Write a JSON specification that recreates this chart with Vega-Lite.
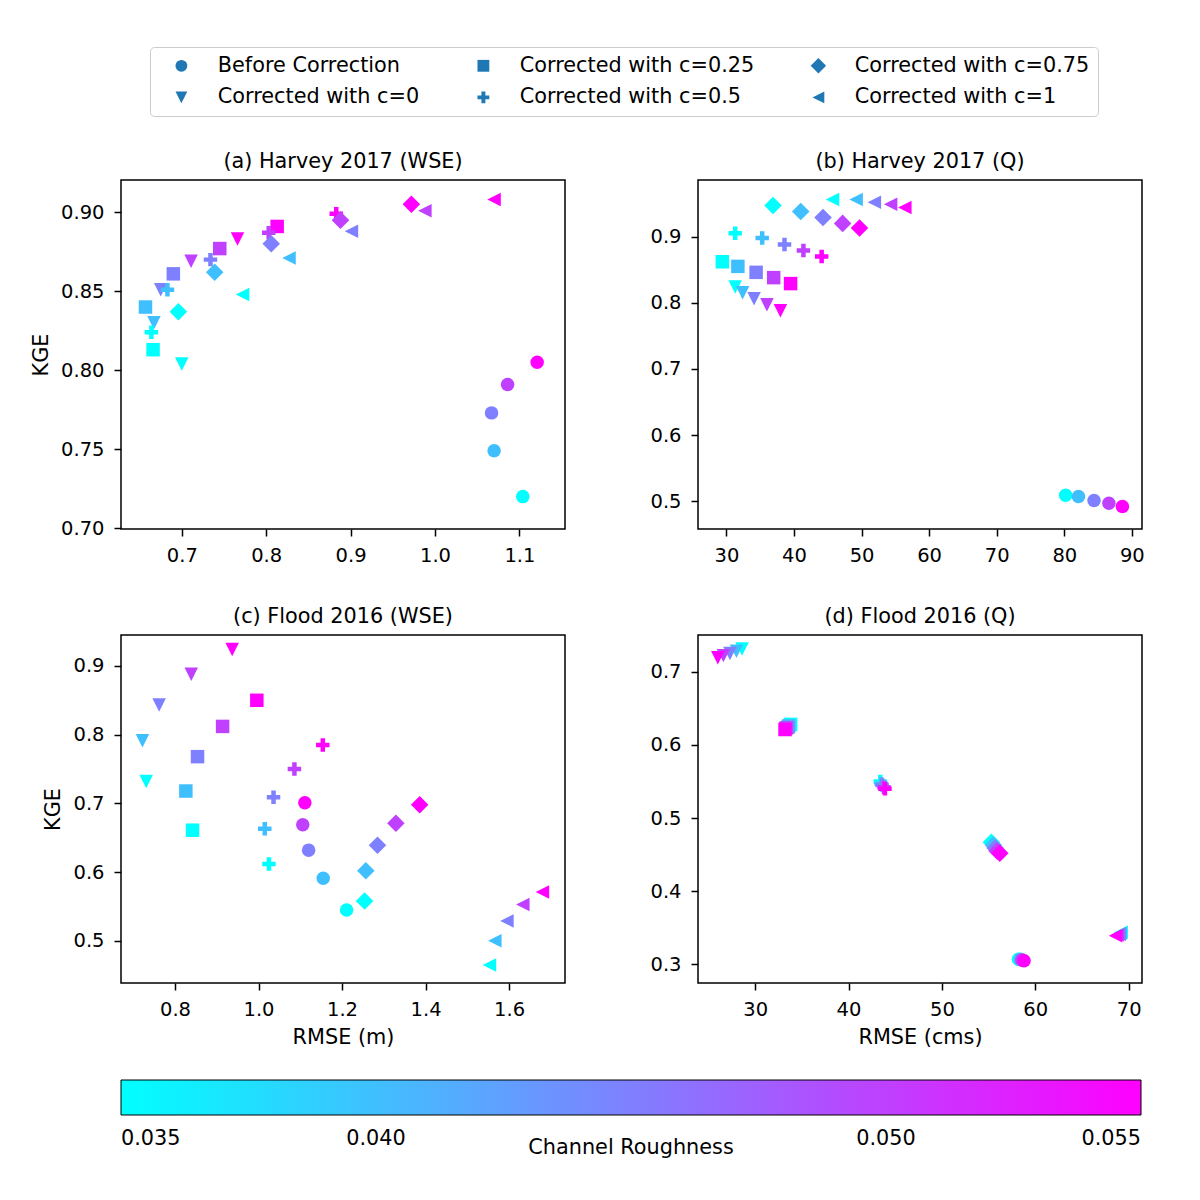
{
  "$schema": "https://vega.github.io/schema/vega-lite/v6.json",
  "background": "white",
  "padding": {"left": 29, "top": 46, "right": 10, "bottom": 10},
  "data": {"values": [
    {"panel":"a","method":"Before Correction","roughness":0.035,"rmse":1.104,"kge":0.720},
    {"panel":"a","method":"Before Correction","roughness":0.040,"rmse":1.070,"kge":0.749},
    {"panel":"a","method":"Before Correction","roughness":0.045,"rmse":1.067,"kge":0.773},
    {"panel":"a","method":"Before Correction","roughness":0.050,"rmse":1.086,"kge":0.791},
    {"panel":"a","method":"Before Correction","roughness":0.055,"rmse":1.121,"kge":0.805},
    {"panel":"a","method":"Corrected with c=0","roughness":0.035,"rmse":0.700,"kge":0.804},
    {"panel":"a","method":"Corrected with c=0","roughness":0.040,"rmse":0.667,"kge":0.830},
    {"panel":"a","method":"Corrected with c=0","roughness":0.045,"rmse":0.675,"kge":0.851},
    {"panel":"a","method":"Corrected with c=0","roughness":0.050,"rmse":0.711,"kge":0.869},
    {"panel":"a","method":"Corrected with c=0","roughness":0.055,"rmse":0.766,"kge":0.883},
    {"panel":"a","method":"Corrected with c=0.25","roughness":0.035,"rmse":0.666,"kge":0.813},
    {"panel":"a","method":"Corrected with c=0.25","roughness":0.040,"rmse":0.657,"kge":0.840},
    {"panel":"a","method":"Corrected with c=0.25","roughness":0.045,"rmse":0.690,"kge":0.861},
    {"panel":"a","method":"Corrected with c=0.25","roughness":0.050,"rmse":0.745,"kge":0.877},
    {"panel":"a","method":"Corrected with c=0.25","roughness":0.055,"rmse":0.813,"kge":0.891},
    {"panel":"a","method":"Corrected with c=0.5","roughness":0.035,"rmse":0.664,"kge":0.824},
    {"panel":"a","method":"Corrected with c=0.5","roughness":0.040,"rmse":0.683,"kge":0.851},
    {"panel":"a","method":"Corrected with c=0.5","roughness":0.045,"rmse":0.734,"kge":0.870},
    {"panel":"a","method":"Corrected with c=0.5","roughness":0.050,"rmse":0.803,"kge":0.887},
    {"panel":"a","method":"Corrected with c=0.5","roughness":0.055,"rmse":0.883,"kge":0.899},
    {"panel":"a","method":"Corrected with c=0.75","roughness":0.035,"rmse":0.696,"kge":0.837},
    {"panel":"a","method":"Corrected with c=0.75","roughness":0.040,"rmse":0.739,"kge":0.862},
    {"panel":"a","method":"Corrected with c=0.75","roughness":0.045,"rmse":0.806,"kge":0.880},
    {"panel":"a","method":"Corrected with c=0.75","roughness":0.050,"rmse":0.888,"kge":0.895},
    {"panel":"a","method":"Corrected with c=0.75","roughness":0.055,"rmse":0.972,"kge":0.905},
    {"panel":"a","method":"Corrected with c=1","roughness":0.035,"rmse":0.772,"kge":0.848},
    {"panel":"a","method":"Corrected with c=1","roughness":0.040,"rmse":0.827,"kge":0.871},
    {"panel":"a","method":"Corrected with c=1","roughness":0.045,"rmse":0.901,"kge":0.888},
    {"panel":"a","method":"Corrected with c=1","roughness":0.050,"rmse":0.988,"kge":0.901},
    {"panel":"a","method":"Corrected with c=1","roughness":0.055,"rmse":1.070,"kge":0.908},

    {"panel":"b","method":"Before Correction","roughness":0.035,"rmse":80.2,"kge":0.509},
    {"panel":"b","method":"Before Correction","roughness":0.040,"rmse":82.1,"kge":0.507},
    {"panel":"b","method":"Before Correction","roughness":0.045,"rmse":84.4,"kge":0.501},
    {"panel":"b","method":"Before Correction","roughness":0.050,"rmse":86.6,"kge":0.497},
    {"panel":"b","method":"Before Correction","roughness":0.055,"rmse":88.6,"kge":0.492},
    {"panel":"b","method":"Corrected with c=0","roughness":0.035,"rmse":31.3,"kge":0.824},
    {"panel":"b","method":"Corrected with c=0","roughness":0.040,"rmse":32.4,"kge":0.815},
    {"panel":"b","method":"Corrected with c=0","roughness":0.045,"rmse":34.1,"kge":0.806},
    {"panel":"b","method":"Corrected with c=0","roughness":0.050,"rmse":36.0,"kge":0.797},
    {"panel":"b","method":"Corrected with c=0","roughness":0.055,"rmse":38.0,"kge":0.788},
    {"panel":"b","method":"Corrected with c=0.25","roughness":0.035,"rmse":29.4,"kge":0.862},
    {"panel":"b","method":"Corrected with c=0.25","roughness":0.040,"rmse":31.7,"kge":0.855},
    {"panel":"b","method":"Corrected with c=0.25","roughness":0.045,"rmse":34.4,"kge":0.846},
    {"panel":"b","method":"Corrected with c=0.25","roughness":0.050,"rmse":37.0,"kge":0.838},
    {"panel":"b","method":"Corrected with c=0.25","roughness":0.055,"rmse":39.5,"kge":0.829},
    {"panel":"b","method":"Corrected with c=0.5","roughness":0.035,"rmse":31.3,"kge":0.905},
    {"panel":"b","method":"Corrected with c=0.5","roughness":0.040,"rmse":35.3,"kge":0.898},
    {"panel":"b","method":"Corrected with c=0.5","roughness":0.045,"rmse":38.6,"kge":0.888},
    {"panel":"b","method":"Corrected with c=0.5","roughness":0.050,"rmse":41.4,"kge":0.879},
    {"panel":"b","method":"Corrected with c=0.5","roughness":0.055,"rmse":44.1,"kge":0.870},
    {"panel":"b","method":"Corrected with c=0.75","roughness":0.035,"rmse":36.9,"kge":0.947},
    {"panel":"b","method":"Corrected with c=0.75","roughness":0.040,"rmse":41.0,"kge":0.938},
    {"panel":"b","method":"Corrected with c=0.75","roughness":0.045,"rmse":44.3,"kge":0.929},
    {"panel":"b","method":"Corrected with c=0.75","roughness":0.050,"rmse":47.2,"kge":0.920},
    {"panel":"b","method":"Corrected with c=0.75","roughness":0.055,"rmse":49.7,"kge":0.913},
    {"panel":"b","method":"Corrected with c=1","roughness":0.035,"rmse":45.7,"kge":0.956},
    {"panel":"b","method":"Corrected with c=1","roughness":0.040,"rmse":49.2,"kge":0.956},
    {"panel":"b","method":"Corrected with c=1","roughness":0.045,"rmse":51.9,"kge":0.952},
    {"panel":"b","method":"Corrected with c=1","roughness":0.050,"rmse":54.3,"kge":0.949},
    {"panel":"b","method":"Corrected with c=1","roughness":0.055,"rmse":56.4,"kge":0.944},

    {"panel":"c","method":"Before Correction","roughness":0.035,"rmse":1.211,"kge":0.545},
    {"panel":"c","method":"Before Correction","roughness":0.040,"rmse":1.155,"kge":0.591},
    {"panel":"c","method":"Before Correction","roughness":0.045,"rmse":1.120,"kge":0.632},
    {"panel":"c","method":"Before Correction","roughness":0.050,"rmse":1.106,"kge":0.669},
    {"panel":"c","method":"Before Correction","roughness":0.055,"rmse":1.111,"kge":0.701},
    {"panel":"c","method":"Corrected with c=0","roughness":0.035,"rmse":0.731,"kge":0.732},
    {"panel":"c","method":"Corrected with c=0","roughness":0.040,"rmse":0.722,"kge":0.791},
    {"panel":"c","method":"Corrected with c=0","roughness":0.045,"rmse":0.762,"kge":0.843},
    {"panel":"c","method":"Corrected with c=0","roughness":0.050,"rmse":0.839,"kge":0.888},
    {"panel":"c","method":"Corrected with c=0","roughness":0.055,"rmse":0.937,"kge":0.924},
    {"panel":"c","method":"Corrected with c=0.25","roughness":0.035,"rmse":0.842,"kge":0.661},
    {"panel":"c","method":"Corrected with c=0.25","roughness":0.040,"rmse":0.826,"kge":0.718},
    {"panel":"c","method":"Corrected with c=0.25","roughness":0.045,"rmse":0.854,"kge":0.768},
    {"panel":"c","method":"Corrected with c=0.25","roughness":0.050,"rmse":0.914,"kge":0.812},
    {"panel":"c","method":"Corrected with c=0.25","roughness":0.055,"rmse":0.996,"kge":0.850},
    {"panel":"c","method":"Corrected with c=0.5","roughness":0.035,"rmse":1.025,"kge":0.612},
    {"panel":"c","method":"Corrected with c=0.5","roughness":0.040,"rmse":1.015,"kge":0.663},
    {"panel":"c","method":"Corrected with c=0.5","roughness":0.045,"rmse":1.036,"kge":0.709},
    {"panel":"c","method":"Corrected with c=0.5","roughness":0.050,"rmse":1.086,"kge":0.750},
    {"panel":"c","method":"Corrected with c=0.5","roughness":0.055,"rmse":1.154,"kge":0.785},
    {"panel":"c","method":"Corrected with c=0.75","roughness":0.035,"rmse":1.254,"kge":0.558},
    {"panel":"c","method":"Corrected with c=0.75","roughness":0.040,"rmse":1.257,"kge":0.602},
    {"panel":"c","method":"Corrected with c=0.75","roughness":0.045,"rmse":1.285,"kge":0.639},
    {"panel":"c","method":"Corrected with c=0.75","roughness":0.050,"rmse":1.329,"kge":0.671},
    {"panel":"c","method":"Corrected with c=0.75","roughness":0.055,"rmse":1.386,"kge":0.698},
    {"panel":"c","method":"Corrected with c=1","roughness":0.035,"rmse":1.553,"kge":0.465},
    {"panel":"c","method":"Corrected with c=1","roughness":0.040,"rmse":1.566,"kge":0.500},
    {"panel":"c","method":"Corrected with c=1","roughness":0.045,"rmse":1.595,"kge":0.529},
    {"panel":"c","method":"Corrected with c=1","roughness":0.050,"rmse":1.633,"kge":0.553},
    {"panel":"c","method":"Corrected with c=1","roughness":0.055,"rmse":1.680,"kge":0.571},

    {"panel":"d","method":"Before Correction","roughness":0.035,"rmse":58.2,"kge":0.307},
    {"panel":"d","method":"Before Correction","roughness":0.040,"rmse":58.4,"kge":0.307},
    {"panel":"d","method":"Before Correction","roughness":0.045,"rmse":58.5,"kge":0.306},
    {"panel":"d","method":"Before Correction","roughness":0.050,"rmse":58.6,"kge":0.306},
    {"panel":"d","method":"Before Correction","roughness":0.055,"rmse":58.8,"kge":0.305},
    {"panel":"d","method":"Corrected with c=0","roughness":0.035,"rmse":28.6,"kge":0.731},
    {"panel":"d","method":"Corrected with c=0","roughness":0.040,"rmse":28.0,"kge":0.728},
    {"panel":"d","method":"Corrected with c=0","roughness":0.045,"rmse":27.3,"kge":0.725},
    {"panel":"d","method":"Corrected with c=0","roughness":0.050,"rmse":26.6,"kge":0.722},
    {"panel":"d","method":"Corrected with c=0","roughness":0.055,"rmse":26.0,"kge":0.719},
    {"panel":"d","method":"Corrected with c=0.25","roughness":0.035,"rmse":33.8,"kge":0.628},
    {"panel":"d","method":"Corrected with c=0.25","roughness":0.040,"rmse":33.6,"kge":0.626},
    {"panel":"d","method":"Corrected with c=0.25","roughness":0.045,"rmse":33.5,"kge":0.624},
    {"panel":"d","method":"Corrected with c=0.25","roughness":0.050,"rmse":33.3,"kge":0.623},
    {"panel":"d","method":"Corrected with c=0.25","roughness":0.055,"rmse":33.2,"kge":0.621},
    {"panel":"d","method":"Corrected with c=0.5","roughness":0.035,"rmse":43.4,"kge":0.550},
    {"panel":"d","method":"Corrected with c=0.5","roughness":0.040,"rmse":43.5,"kge":0.547},
    {"panel":"d","method":"Corrected with c=0.5","roughness":0.045,"rmse":43.6,"kge":0.545},
    {"panel":"d","method":"Corrected with c=0.5","roughness":0.050,"rmse":43.8,"kge":0.542},
    {"panel":"d","method":"Corrected with c=0.5","roughness":0.055,"rmse":43.9,"kge":0.540},
    {"panel":"d","method":"Corrected with c=0.75","roughness":0.035,"rmse":55.3,"kge":0.467},
    {"panel":"d","method":"Corrected with c=0.75","roughness":0.040,"rmse":55.5,"kge":0.463},
    {"panel":"d","method":"Corrected with c=0.75","roughness":0.045,"rmse":55.7,"kge":0.459},
    {"panel":"d","method":"Corrected with c=0.75","roughness":0.050,"rmse":55.9,"kge":0.455},
    {"panel":"d","method":"Corrected with c=0.75","roughness":0.055,"rmse":56.2,"kge":0.452},
    {"panel":"d","method":"Corrected with c=1","roughness":0.035,"rmse":69.2,"kge":0.344},
    {"panel":"d","method":"Corrected with c=1","roughness":0.040,"rmse":69.1,"kge":0.343},
    {"panel":"d","method":"Corrected with c=1","roughness":0.045,"rmse":69.0,"kge":0.341},
    {"panel":"d","method":"Corrected with c=1","roughness":0.050,"rmse":68.8,"kge":0.340},
    {"panel":"d","method":"Corrected with c=1","roughness":0.055,"rmse":68.6,"kge":0.339}
  ]},
  "columns": 2,
  "spacing": {"row": 106, "column": 133},
  "bounds": "flush",
  "resolve": {"scale": {"x": "independent", "y": "independent"}},
  "concat": [
    {
      "title": "(a) Harvey 2017 (WSE)",
      "width": 444, "height": 349,
      "transform": [{"filter": "datum.panel == 'a'"}],
      "mark": {"type": "point", "filled": true, "opacity": 1, "size": 182, "strokeWidth": 0},
      "encoding": {
        "x": {"field": "rmse", "type": "quantitative", "scale": {"domain": [0.628, 1.154], "nice": false, "zero": false},
              "axis": {"title": null, "values": [0.7, 0.8, 0.9, 1.0, 1.1], "format": ".1f"}},
        "y": {"field": "kge", "type": "quantitative", "scale": {"domain": [0.6995, 0.9204], "nice": false, "zero": false},
              "axis": {"title": "KGE", "values": [0.70, 0.75, 0.80, 0.85, 0.90], "format": ".2f"}},
        "color": {"field": "roughness", "type": "quantitative",
                  "scale": {"domain": [0.035, 0.055], "range": ["#00ffff", "#ff00ff"], "interpolate": "rgb"},
                  "legend": {"orient": "none", "legendX": 0, "legendY": 900, "direction": "horizontal",
                             "gradientLength": 1020, "gradientThickness": 35,
                             "gradientStrokeColor": "black", "gradientStrokeWidth": 1,
                             "title": "Channel Roughness", "titleOrient": "bottom", "titleAnchor": "middle", "titleLimit": 0,
                             "titleFontSize": 20.8, "titleFontWeight": "normal", "titleColor": "black", "titlePadding": -11,
                             "labelFontSize": 20.8, "labelColor": "black", "labelOffset": 14,
                             "labelOverlap": false,
                             "values": [0.035, 0.040, 0.050, 0.055], "format": ".3f", "padding": 0,
                             "encode": {"labels": {"dx": {"value": {"signal": "datum.value < 0.036 ? -29.5 : (datum.value > 0.054 ? 29.5 : 0)"}}}}}},
        "shape": {"field": "method", "type": "nominal",
                  "scale": {"domain": ["Before Correction", "Corrected with c=0", "Corrected with c=0.25", "Corrected with c=0.5", "Corrected with c=0.75", "Corrected with c=1"],
                            "range": ["circle", "M0,1L-1,-1L1,-1Z", "square", "M-0.333,-1L0.333,-1L0.333,-0.333L1,-0.333L1,0.333L0.333,0.333L0.333,1L-0.333,1L-0.333,0.333L-1,0.333L-1,-0.333L-0.333,-0.333Z", "M-1.3,0L0,-1.3L1.3,0L0,1.3Z", "M-1,0L1,-1L1,1Z"]},
                  "legend": {"orient": "none", "legendX": 29, "legendY": -133, "columns": 3, "title": null,
                             "labelFontSize": 20.8, "labelColor": "black", "labelLimit": 0,
                             "symbolSize": 140, "symbolFillColor": "#1f77b4", "symbolStrokeWidth": 0, "symbolOpacity": 1,
                             "padding": 8, "rowPadding": 10, "columnPadding": 40, "symbolOffset": 13, "labelOffset": 26,
                             "strokeColor": "#cccccc", "fillColor": "white", "cornerRadius": 4,
                             "encode": {"symbols": {"update": {"fill": {"value": "#1f77b4"}, "stroke": {"value": "#1f77b4"}, "strokeWidth": {"value": 0}, "opacity": {"value": 1}}}}}}
      }
    },
    {
      "title": "(b) Harvey 2017 (Q)",
      "width": 444, "height": 349,
      "transform": [{"filter": "datum.panel == 'b'"}],
      "mark": {"type": "point", "filled": true, "opacity": 1, "size": 182, "strokeWidth": 0},
      "encoding": {
        "x": {"field": "rmse", "type": "quantitative", "scale": {"domain": [25.8, 91.5], "nice": false, "zero": false},
              "axis": {"title": null, "values": [30, 40, 50, 60, 70, 80, 90], "format": "d"}},
        "y": {"field": "kge", "type": "quantitative", "scale": {"domain": [0.458, 0.9856], "nice": false, "zero": false},
              "axis": {"title": null, "values": [0.5, 0.6, 0.7, 0.8, 0.9], "format": ".1f"}},
        "color": {"field": "roughness", "type": "quantitative"},
        "shape": {"field": "method", "type": "nominal"}
      }
    },
    {
      "title": "(c) Flood 2016 (WSE)",
      "width": 444, "height": 348,
      "transform": [{"filter": "datum.panel == 'c'"}],
      "mark": {"type": "point", "filled": true, "opacity": 1, "size": 182, "strokeWidth": 0},
      "encoding": {
        "x": {"field": "rmse", "type": "quantitative", "scale": {"domain": [0.6707, 1.734], "nice": false, "zero": false},
              "axis": {"title": "RMSE (m)", "values": [0.8, 1.0, 1.2, 1.4, 1.6], "format": ".1f"}},
        "y": {"field": "kge", "type": "quantitative", "scale": {"domain": [0.4387, 0.945], "nice": false, "zero": false},
              "axis": {"title": "KGE", "values": [0.5, 0.6, 0.7, 0.8, 0.9], "format": ".1f"}},
        "color": {"field": "roughness", "type": "quantitative"},
        "shape": {"field": "method", "type": "nominal"}
      }
    },
    {
      "title": "(d) Flood 2016 (Q)",
      "width": 444, "height": 348,
      "transform": [{"filter": "datum.panel == 'd'"}],
      "mark": {"type": "point", "filled": true, "opacity": 1, "size": 182, "strokeWidth": 0},
      "encoding": {
        "x": {"field": "rmse", "type": "quantitative", "scale": {"domain": [23.88, 71.43], "nice": false, "zero": false},
              "axis": {"title": "RMSE (cms)", "values": [30, 40, 50, 60, 70], "format": "d"}},
        "y": {"field": "kge", "type": "quantitative", "scale": {"domain": [0.2745, 0.7502], "nice": false, "zero": false},
              "axis": {"title": null, "values": [0.3, 0.4, 0.5, 0.6, 0.7], "format": ".1f"}},
        "color": {"field": "roughness", "type": "quantitative"},
        "shape": {"field": "method", "type": "nominal"}
      }
    }
  ],
  "config": {
    "font": "DejaVu Sans",
    "view": {"stroke": "black", "strokeWidth": 1.5},
    "axis": {"grid": false, "domain": false, "ticks": true, "tickColor": "black", "tickSize": 7, "tickWidth": 1.5,
             "labelFont": "DejaVu Sans", "labelFontSize": 19.5, "labelColor": "black", "labelPadding": 10,
             "labelFlush": false, "labelOverlap": false,
             "titleFont": "DejaVu Sans", "titleFontSize": 20.8, "titleFontWeight": "normal", "titleColor": "black", "titlePadding": 9},
    "title": {"font": "DejaVu Sans", "fontSize": 20.8, "fontWeight": "normal", "color": "black", "anchor": "middle", "frame": "group", "offset": 7},
    "legend": {"labelFont": "DejaVu Sans", "titleFont": "DejaVu Sans"}
  }
}
